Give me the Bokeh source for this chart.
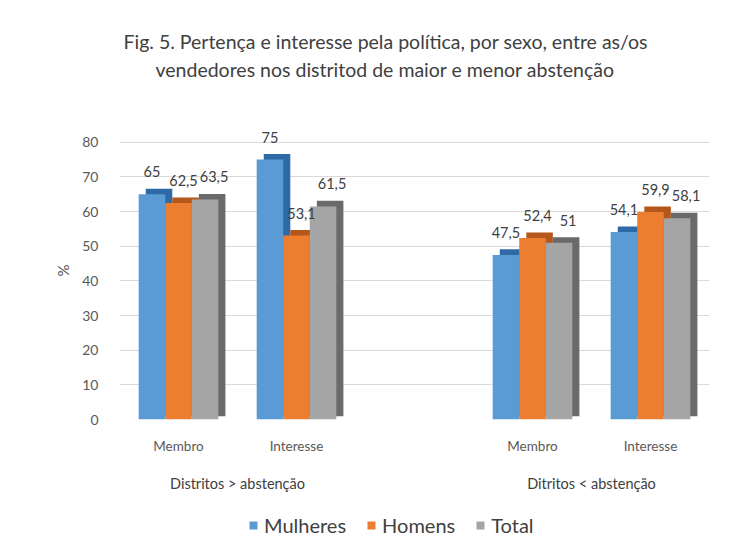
from bokeh.plotting import figure
from bokeh.layouts import column
from bokeh.models import (ColumnDataSource, FactorRange, Legend, LegendItem, Title,
                          FixedTicker, Range1d)
from bokeh.transform import dodge
from bokeh.core.properties import value
from bokeh.embed import file_html
from bokeh.resources import INLINE

# ---- data ----
groups = ["Distritos > abstenção", "Ditritos < abstenção"]
metrics = ["Membro", "Interesse"]
series = ["Mulheres", "Homens", "Total"]
mulheres = [65, 75, 47.5, 54.1]
homens = [62.5, 53.1, 52.4, 59.9]
total = [63.5, 61.5, 51, 58.1]
y_ticks = [0, 10, 20, 30, 40, 50, 60, 70, 80]
title_lines = ["Fig. 5. Pertença e interesse pela política, por sexo, entre as/os",
               "vendedores nos distritod de maior e menor abstenção"]

FONT = "Lato"
front_colors = ["#5B9BD5", "#ED7D31", "#A5A5A5"]
side_colors = ["#2E6BA6", "#B5561A", "#6A6A6A"]
DEPTH = 1.6

cats = [(g, m) for g in groups for m in metrics]


def fmt(v):
    return ("%g" % v).replace(".", ",")


data = {"cat": cats}
keys = ["s0", "s1", "s2"]
for k, vals in zip(keys, [mulheres, homens, total]):
    data[k] = vals
    data[k + "_back"] = [v + DEPTH for v in vals]
    data[k + "_lbl"] = [fmt(v) for v in vals]
src = ColumnDataSource(data)

xr = FactorRange(*cats, group_padding=1.0, factor_padding=0.0,
                 range_padding=0.0, range_padding_units="absolute")

p = figure(width=734, height=494, x_range=xr, y_range=Range1d(0, 86),
           output_backend="svg", toolbar_location=None,
           min_border_left=119, min_border_right=25, min_border_top=121,
           min_border_bottom=74)

# titles: an empty spacer sits closest to the plot, then line 2, then line 1
spacer = Title(text=" ", text_font=FONT, text_font_size="10px", standoff=25)
t2 = Title(text=title_lines[1], align="left", offset=36,
           text_font=FONT, text_font_size="19.5px", text_font_style="normal",
           text_color="#404040", standoff=3)
t1 = Title(text=title_lines[0], align="left", offset=4,
           text_font=FONT, text_font_size="19.5px", text_font_style="normal",
           text_color="#404040", standoff=3)
p.add_layout(spacer, "above")
p.add_layout(t2, "above")
p.add_layout(t1, "above")

bw = 0.225
offsets = [-bw, 0.0, bw]
label_shift = [0, 5, 9]
for i, k in enumerate(keys):
    off = offsets[i]
    p.vbar(x=dodge("cat", off + 0.06, range=p.x_range), top=k + "_back",
           bottom=DEPTH * 0.6, width=bw, source=src, fill_color=side_colors[i],
           line_color=None)
    p.vbar(x=dodge("cat", off, range=p.x_range), top=k, bottom=0,
           width=bw, source=src, fill_color=front_colors[i], line_color=None)
for i, k in enumerate(keys):
    p.text(x=dodge("cat", offsets[i], range=p.x_range), y=k, text=k + "_lbl",
           source=src, text_align="center", text_baseline="bottom", y_offset=-17,
           x_offset=label_shift[i],
           text_font=value(FONT), text_font_size="14.5px", text_color="#404040")

p.yaxis.ticker = FixedTicker(ticks=y_ticks)
p.yaxis.axis_label = "%"
p.yaxis.axis_label_text_font = FONT
p.yaxis.axis_label_text_font_size = "15px"
p.yaxis.axis_label_text_font_style = "normal"
p.yaxis.axis_label_text_color = "#595959"
p.yaxis.axis_label_standoff = 7
p.yaxis.major_label_text_font = FONT
p.yaxis.major_label_text_font_size = "14px"
p.yaxis.major_label_text_color = "#595959"
p.yaxis.axis_line_color = None
p.yaxis.major_tick_line_color = None
p.yaxis.minor_tick_line_color = None
p.yaxis.major_tick_out = 0
p.yaxis.minor_tick_out = 0
p.yaxis.major_label_standoff = 21

p.xaxis.major_label_text_font = FONT
p.xaxis.major_label_text_font_size = "13.5px"
p.xaxis.major_label_text_color = "#595959"
p.xaxis.group_text_font = FONT
p.xaxis.group_text_font_size = "14.5px"
p.xaxis.group_text_font_style = "normal"
p.xaxis.group_text_color = "#404040"
p.xaxis.axis_line_color = None
p.xaxis.major_tick_line_color = None
p.xaxis.major_tick_out = 0
p.xaxis.separator_line_alpha = 0
p.xaxis.major_label_standoff = 18

p.xgrid.grid_line_color = None
p.ygrid.grid_line_color = "#D9D9D9"
p.outline_line_color = None

# ---- legend strip below the chart ----
lg = figure(width=734, height=43, output_backend="svg", toolbar_location=None,
            x_range=Range1d(0, 1), y_range=Range1d(0, 1),
            x_axis_location=None, y_axis_location=None, min_border=0)
lg.xgrid.grid_line_color = None
lg.ygrid.grid_line_color = None
lg.outline_line_color = None
items = []
for i, (name, k) in enumerate(zip(series, keys)):
    # hidden proxy renderer, only used to draw the legend swatch
    r = lg.vbar(x=k, top=k, width=0.1, source=src, fill_color=front_colors[i],
                line_color=None, visible=False)
    items.append(LegendItem(label=name, renderers=[r]))
legend = Legend(items=items, orientation="horizontal", location=(129, 0),
                label_text_font=FONT, label_text_font_size="20px",
                label_text_color="#404040", border_line_color=None,
                background_fill_alpha=0, glyph_width=10, glyph_height=10,
                spacing=20, label_standoff=6, padding=0, margin=0,
                inactive_fill_alpha=0)
lg.add_layout(legend, "center")

layout = column(p, lg, spacing=0)
open("out.html", "w").write(file_html(layout, INLINE))
